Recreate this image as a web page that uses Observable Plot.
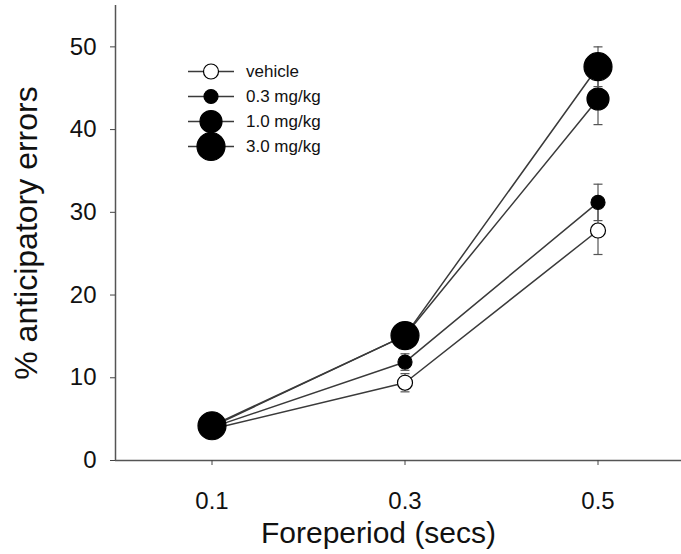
<!DOCTYPE html>
<html>
<head>
<meta charset="utf-8">
<script src="https://cdn.jsdelivr.net/npm/d3@7"></script>
<script src="https://cdn.jsdelivr.net/npm/@observablehq/plot@0.6"></script>
<style>
  html, body { margin: 0; padding: 0; background: #fff; }
  #wrap { position: relative; width: 681px; height: 554px; }
  #legend { position: absolute; left: 0; top: 0; }
</style>
</head>
<body>
<div id="wrap"></div>
<script>
// ---- data ----
const foreperiods = [0.1, 0.3, 0.5];
const seriesNames = ["vehicle", "0.3 mg/kg", "1.0 mg/kg", "3.0 mg/kg"];
const vehicleVals = [3.8, 9.4, 27.8];
const vehicleErr  = [0.4, 1.1, 2.9];
const dose03Vals  = [4.0, 11.9, 31.2];
const dose03Err   = [0.4, 1.0, 2.2];
const dose10Vals  = [4.1, 15.1, 43.7];
const dose10Err   = [0.4, 1.0, 3.1];
const dose30Vals  = [4.2, 15.1, 47.6];
const dose30Err   = [0.4, 1.0, 2.4];
const xTicks = [0.1, 0.3, 0.5];
const yTicks = [0, 10, 20, 30, 40, 50];

// styling per series (not data)
const radii = {"vehicle": 7.5, "0.3 mg/kg": 7, "1.0 mg/kg": 11, "3.0 mg/kg": 14};
const fills = {"vehicle": "white", "0.3 mg/kg": "black", "1.0 mg/kg": "black", "3.0 mg/kg": "black"};

const allVals = [vehicleVals, dose03Vals, dose10Vals, dose30Vals];
const allErr = [vehicleErr, dose03Err, dose10Err, dose30Err];
const rows = [];
seriesNames.forEach((s, i) => {
  foreperiods.forEach((fp, j) => {
    rows.push({series: s, x: fp, y: allVals[i][j], e: allErr[i][j], order: i});
  });
});

const capSymbol = {
  draw(context, size) {
    const w = 4.5;
    context.moveTo(-w, 0);
    context.lineTo(w, 0);
  }
};

const FONT = "'Liberation Sans', Arial, Helvetica, sans-serif";
const lineColor = "#3a3a3a";

const chart = Plot.plot({
  width: 681,
  height: 554,
  marginLeft: 115,
  marginRight: 0,
  marginTop: 5,
  marginBottom: 94,
  style: {fontFamily: FONT, background: "white", color: "#111"},
  x: {domain: [0, 0.6], range: [115, 694]},
  y: {domain: [0, 55], range: [460, 5]},
  r: {type: "identity"},
  marks: [
    Plot.ruleY([0], {stroke: "#555", strokeWidth: 1.5}),
    Plot.ruleX([0], {stroke: "#555", strokeWidth: 1.5}),
    Plot.axisX({ticks: xTicks, tickFormat: d => d.toFixed(1), tickSize: 5, tickPadding: 26,
      fontSize: 24, label: null, stroke: "#444"}),
    Plot.axisY({ticks: yTicks, tickFormat: d => String(d), tickSize: 5, tickPadding: 14,
      fontSize: 24, label: null, stroke: "#444"}),
    Plot.text(["Foreperiod (secs)"], {frameAnchor: "bottom", dx: -20, dy: 73, lineAnchor: "middle",
      fontSize: 30, fill: "#111"}),
    Plot.text(["% anticipatory errors"], {frameAnchor: "left", dx: -89, rotate: -90, lineAnchor: "middle",
      textAnchor: "middle", fontSize: 32, fill: "#111"}),
    Plot.line(rows, {x: "x", y: "y", z: "series", stroke: lineColor, strokeWidth: 1.5}),
    Plot.ruleX(rows, {x: "x", y1: d => d.y - d.e, y2: d => d.y + d.e, stroke: "#555", strokeWidth: 1.2}),
    Plot.dot(rows, {x: "x", y: d => d.y + d.e, symbol: capSymbol, stroke: "#555", strokeWidth: 1.2}),
    Plot.dot(rows, {x: "x", y: d => d.y - d.e, symbol: capSymbol, stroke: "#555", strokeWidth: 1.2}),
    Plot.dot(rows, {x: "x", y: "y", r: d => radii[d.series], fill: d => fills[d.series],
      stroke: "black", strokeWidth: 1.2, sort: {channel: "r", order: "ascending"}})
  ]
});

const wrap = document.getElementById("wrap");
wrap.appendChild(chart);

// legend overlay
const leg = d3.select(wrap).append("svg")
  .attr("id", "legend")
  .attr("width", 681).attr("height", 554)
  .style("pointer-events", "none");
const legX1 = 188, legX2 = 234, legCx = 211, legTx = 246, legY0 = 71.5, legDy = 25;
seriesNames.forEach((s, i) => {
  const cy = legY0 + i * legDy;
  const g = leg.append("g");
  g.append("line").attr("x1", legX1).attr("x2", legX2).attr("y1", cy).attr("y2", cy)
    .attr("stroke", lineColor).attr("stroke-width", 1.5);
  g.append("circle").attr("cx", legCx).attr("cy", cy).attr("r", radii[s])
    .attr("fill", fills[s]).attr("stroke", "black").attr("stroke-width", 1.2);
  g.append("text").attr("x", legTx).attr("y", cy).attr("dy", "0.35em")
    .attr("font-family", FONT).attr("font-size", 17).attr("fill", "#111").text(s);
});
</script>
</body>
</html>
